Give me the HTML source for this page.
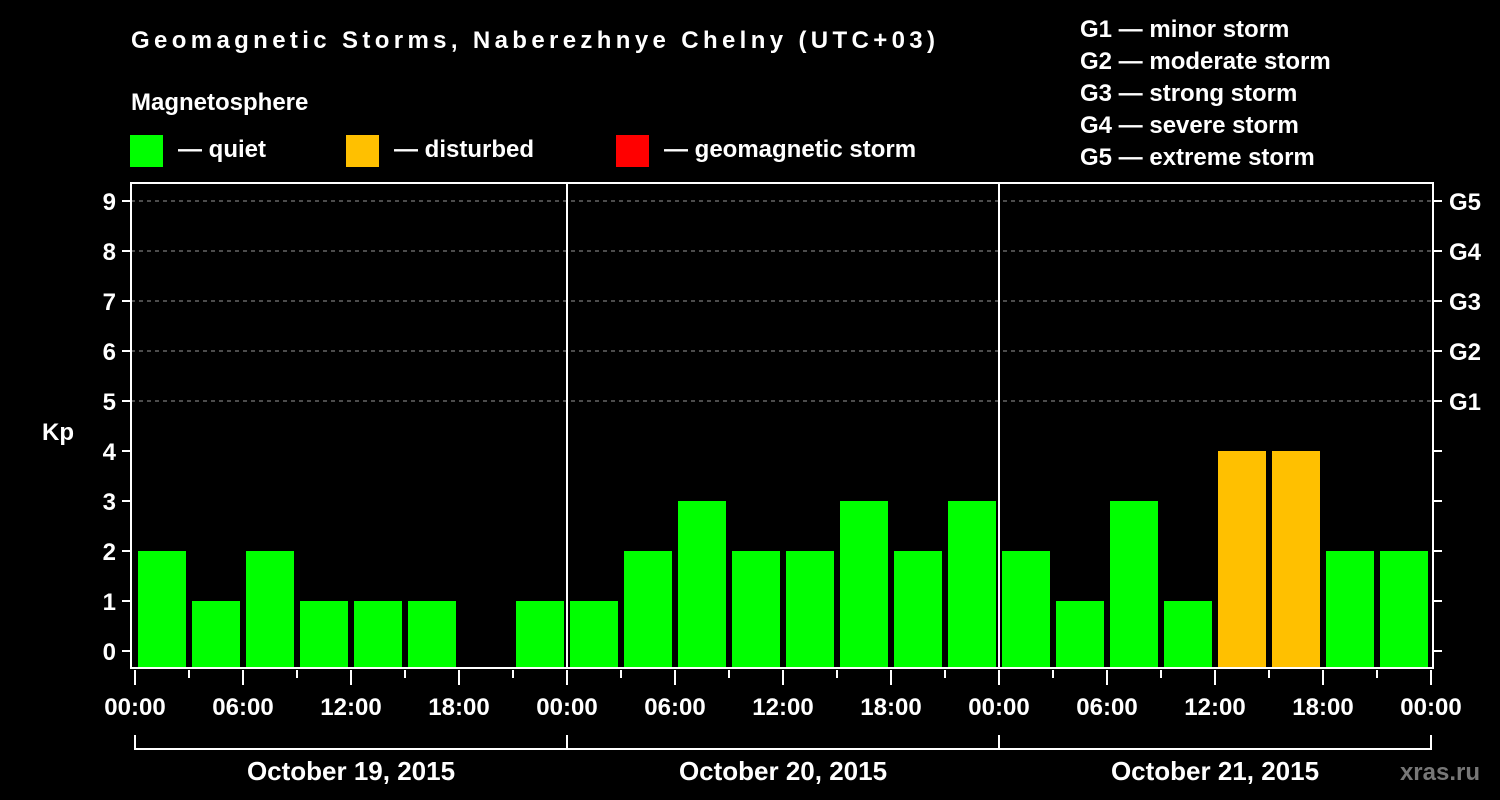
<!DOCTYPE html>
<html><head><meta charset="utf-8"><style>
html,body{margin:0;padding:0;background:#000;}
svg{display:block;font-family:"Liberation Sans",sans-serif;font-weight:bold;}
</style></head><body>
<svg id="chart" width="1500" height="800" viewBox="0 0 1500 800">
<rect width="1500" height="800" fill="#000"/>
<text x="131" y="48" font-size="24" fill="#fff" textLength="804">Geomagnetic Storms, Naberezhnye Chelny (UTC+03)</text>
<text x="131" y="110" font-size="24" fill="#fff">Magnetosphere</text>
<g><rect x="130" y="135" width="33" height="32" fill="#00ff00"/><text x="178" y="157" font-size="24" fill="#fff">— quiet</text></g>
<g><rect x="346" y="135" width="33" height="32" fill="#ffc000"/><text x="394" y="157" font-size="24" fill="#fff">— disturbed</text></g>
<g><rect x="616" y="135" width="33" height="32" fill="#ff0000"/><text x="664" y="157" font-size="24" fill="#fff">— geomagnetic storm</text></g>
<g font-size="24" fill="#fff">
<text x="1080" y="37">G1 — minor storm</text>
<text x="1080" y="69">G2 — moderate storm</text>
<text x="1080" y="101">G3 — strong storm</text>
<text x="1080" y="133">G4 — severe storm</text>
<text x="1080" y="165">G5 — extreme storm</text>
</g>
<text x="42" y="440" font-size="24" fill="#fff">Kp</text>
<text x="1480" y="780" font-size="24" fill="#777" text-anchor="end">xras.ru</text>
<g id="plot"></g>
</svg>
<script>
const values = [2,1,2,1,1,1,0,1, 1,2,3,2,2,3,2,3, 2,1,3,1,4,4,2,2];
const yTicks = [0,1,2,3,4,5,6,7,8,9];
const gLabels = ["G1","G2","G3","G4","G5"];
const xTickLabels = ["00:00","06:00","12:00","18:00","00:00","06:00","12:00","18:00","00:00","06:00","12:00","18:00","00:00"];
const days = ["October 19, 2015","October 20, 2015","October 21, 2015"];

const NS="http://www.w3.org/2000/svg";
const g=document.getElementById('plot');
const X0=135, PXH=18, L=131, R=1433, T=183, B=668;
const x=h=>X0+h*PXH;
const y=v=>651-v*50;
function el(t,a,p){const e=document.createElementNS(NS,t);for(const k in a)e.setAttribute(k,a[k]);(p||g).appendChild(e);return e;}
// grid
for(let v=5;v<=9;v++){
  const l=el('line',{x1:L,x2:R,y1:y(v),y2:y(v),stroke:'#999','stroke-dasharray':'4,4','stroke-width':1});
  
  
}
// bars
values.forEach((v,i)=>{
  const top=y(v);
  const c=v>=5?'#ff0000':(v>=4?'#ffc000':'#00ff00');
  const r=el('rect',{x:x(i*3)+3,y:v>0?top:B,width:48,height:v>0?B-top:0,fill:c});
  
  
});
// day separators
for(let d=1;d<days.length;d++){
  const l=el('line',{x1:x(d*24),x2:x(d*24),y1:T,y2:B,stroke:'#fff','stroke-width':2});
  
  
}
// frame
const f=el('rect',{x:L,y:T,width:R-L,height:B-T,fill:'none',stroke:'#fff','stroke-width':2});


// y ticks
yTicks.forEach(v=>{
  el('line',{x1:122,x2:L,y1:y(v),y2:y(v),stroke:'#fff','stroke-width':2});
  el('line',{x1:R,x2:1442,y1:y(v),y2:y(v),stroke:'#fff','stroke-width':2});
  const t=el('text',{x:116,y:y(v)+9,'font-size':24,fill:'#fff','text-anchor':'end'});
  t.textContent=v;
  
  
});
gLabels.forEach((s,i)=>{
  const t=el('text',{x:1449,y:y(5+i)+9,'font-size':24,fill:'#fff'});
  t.textContent=s;
  
  
});
// x ticks
for(let h=0;h<=72;h+=3){
  const major=h%6===0;
  el('line',{x1:x(h),x2:x(h),y1:B+2,y2:major?685:678,stroke:'#fff','stroke-width':2});
}
xTickLabels.forEach((s,i)=>{
  const t=el('text',{x:x(i*6),y:715,'font-size':24,fill:'#fff','text-anchor':'middle'});
  t.textContent=s;
  
  
});
// day brackets
days.forEach((s,d)=>{
  const a=x(d*24),b=x(d*24+24);
  el('polyline',{points:`${a},735 ${a},749 ${b},749 ${b},735`,fill:'none',stroke:'#fff','stroke-width':2});
  const t=el('text',{x:(a+b)/2,y:780,'font-size':26,fill:'#fff','text-anchor':'middle'});
  t.textContent=s;
  
  
});
</script>
</body></html>
